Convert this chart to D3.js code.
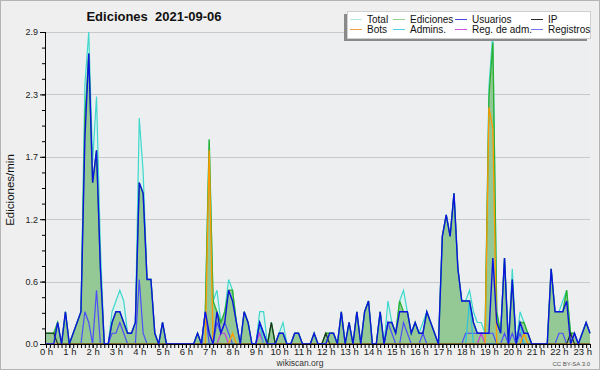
<!DOCTYPE html>
<html>
<head>
<meta charset="utf-8">
<script src="https://cdn.jsdelivr.net/npm/d3@7"></script>
<style>
  body { margin: 0; background: #efefef; }
  svg { display: block; font-family: "Liberation Sans", Arial, sans-serif; }
</style>
</head>
<body>
<div id="chart"></div>
<script>
// ediciones/min, un punto cada 10 min (0h00 .. 23h20)
const total = [
  .1, .1, .1, .2, 0, .3,   0, .1, .2, .3, 2.4, 2.9,   1.7, 2.3, .9, 0, 0, .3,   .4, .5, .4, .1, .1, .2,   2.1, 1.6, .6, .6, .1, 0,   .2, 0, 0, 0, 0, 0,
  0, 0, 0, .1, 0, .3,   1.9, .4, .5, .2, .3, .6,   .5, .2, 0, .3, .2, 0,   0, .3, .3, 0, .2, 0,   .1, .2, 0, 0, .1, .1,   0, 0, 0, .1, 0, 0,
  .1, .1, .1, 0, .3, 0,   .2, 0, .3, 0, .3, .4,   0, 0, .3, 0, .4, .2,   .1, .4, .5, .3, .1, .2,   .1, .2, .3, .2, .1, 0,   1.0, 1.2, 1.0, 1.4, .7, .4,
  .4, .5, .3, .2, .2, .1,   2.4, 2.9, .3, .1, .8, 0,   .7, 0, .3, .2, .1, 0,   0, 0, 0, 0, .7, .3,   .3, .4, .5, .1, .1, 0,   .1, .2, .1
];
const ediciones = [
  .1, .1, .1, .2, 0, .3,   0, .1, .2, .3, 2.1, 2.7,   1.5, 1.8, .7, 0, 0, .2,   .3, .3, .2, .1, .1, .2,   1.5, 1.4, .6, .6, .1, 0,   .2, 0, 0, 0, 0, 0,
  0, 0, 0, .1, 0, .3,   1.9, .4, .3, .2, .3, .5,   .5, .2, 0, .3, .2, 0,   0, .2, .1, 0, .2, 0,   .1, .1, 0, 0, .1, .1,   0, 0, 0, .1, 0, 0,
  .1, .1, .1, 0, .3, 0,   .2, 0, .3, 0, .3, .4,   0, 0, .3, 0, .2, .2,   .1, .4, .3, .3, .1, .2,   .1, .1, .3, .2, .1, 0,   1.0, 1.2, 1.0, 1.4, .7, .4,
  .4, .4, .2, .1, .1, .1,   2.3, 2.8, .3, .1, .8, 0,   .6, 0, .2, .2, .1, 0,   0, 0, 0, 0, .7, .3,   .3, .3, .5, .1, .1, 0,   .1, .2, .1
];
const usuarios = [
  0, 0, 0, .2, 0, .3,   0, .1, .2, .3, 1.9, 2.7,   1.5, 1.8, .7, 0, 0, .2,   .3, .3, .2, .1, .1, .2,   1.5, 1.4, .6, .6, .1, 0,   .2, 0, 0, 0, 0, 0,
  0, 0, 0, .1, 0, .3,   .1, 0, .3, .1, .2, .5,   .4, .2, 0, .3, .2, 0,   0, .2, .1, 0, 0, 0,   .1, .1, 0, 0, .1, .1,   0, 0, 0, .1, 0, 0,
  0, .1, .1, 0, .3, 0,   .2, 0, .3, 0, .3, .4,   0, 0, .3, 0, .2, .2,   .1, .3, .3, .3, .1, .2,   .1, .1, .3, .2, .1, 0,   1.0, 1.2, 1.0, 1.4, .7, .4,
  .4, .4, .2, .1, .1, .1,   .1, .8, .2, .1, .8, 0,   .6, 0, .2, .1, .1, 0,   0, 0, 0, 0, .7, .3,   .3, .3, .4, 0, .1, 0,   .1, .2, .1
];
const ip = [
  .1, .1, .1, 0, 0, 0,   0, 0, 0, 0, 0, 0,   0, 0, 0, 0, 0, 0,   0, 0, 0, 0, 0, 0,   0, 0, 0, 0, 0, 0,   0, 0, 0, 0, 0, 0,
  0, 0, 0, 0, 0, 0,   0, 0, 0, 0, 0, 0,   0, 0, 0, 0, 0, 0,   0, 0, 0, 0, .2, 0,   0, 0, 0, 0, 0, 0,   0, 0, 0, 0, 0, 0,
  .1, 0, 0, 0, 0, 0,   0, 0, 0, 0, 0, 0,   0, 0, 0, 0, 0, 0,   0, 0, 0, 0, 0, 0,   0, 0, 0, 0, 0, 0,   0, 0, 0, 0, 0, 0,
  0, 0, 0, 0, 0, 0,   0, 0, 0, 0, 0, 0,   0, 0, 0, 0, 0, 0,   0, 0, 0, 0, 0, 0,   0, 0, 0, .1, 0, 0,   0, 0, 0
];
const bots = [
  0, 0, 0, 0, 0, 0,   0, 0, 0, 0, 0, 0,   0, 0, 0, 0, 0, 0,   0, 0, 0, 0, 0, 0,   0, 0, 0, 0, 0, 0,   0, 0, 0, 0, 0, 0,
  0, 0, 0, 0, 0, 0,   1.8, 0, 0, 0, 0, 0,   .1, 0, 0, 0, 0, 0,   0, 0, 0, 0, 0, 0,   0, 0, 0, 0, 0, 0,   0, 0, 0, 0, 0, 0,
  0, 0, 0, 0, 0, 0,   0, 0, 0, 0, 0, 0,   0, 0, 0, 0, 0, 0,   0, 0, 0, 0, 0, 0,   0, 0, 0, 0, 0, 0,   0, 0, 0, 0, 0, 0,
  0, 0, 0, 0, 0, 0,   2.2, 2.0, 0, 0, 0, 0,   0, 0, 0, .1, 0, 0,   0, 0, 0, 0, 0, 0,   0, 0, 0, 0, 0, 0,   0, 0, 0
];
const admins = [
  0, 0, 0, 0, 0, 0,   0, 0, 0, 0, 0, 0,   0, 0, 0, 0, 0, 0,   0, 0, 0, 0, 0, 0,   0, 0, 0, 0, 0, 0,   0, 0, 0, 0, 0, 0,
  0, 0, 0, 0, 0, 0,   0, 0, 0, 0, 0, 0,   0, 0, 0, 0, 0, 0,   0, .2, 0, 0, 0, 0,   0, 0, 0, 0, 0, 0,   0, 0, 0, 0, 0, 0,
  0, 0, 0, 0, 0, 0,   0, 0, 0, 0, 0, 0,   0, 0, 0, 0, 0, 0,   0, 0, 0, 0, 0, 0,   0, 0, 0, 0, 0, 0,   0, 0, 0, 0, 0, 0,
  0, .4, 0, 0, 0, 0,   0, 0, 0, 0, 0, 0,   0, 0, .2, 0, 0, 0,   0, 0, 0, 0, 0, 0,   0, 0, 0, 0, 0, 0,   0, 0, 0
];
const regAdm = [
  0, 0, 0, 0, 0, 0,   0, 0, 0, 0, 0, 0,   0, 0, 0, 0, 0, 0,   0, 0, 0, 0, 0, 0,   0, 0, 0, 0, 0, 0,   0, 0, 0, 0, 0, 0,
  0, 0, 0, 0, 0, 0,   0, 0, 0, .1, .1, 0,   0, 0, 0, 0, 0, 0,   0, .1, 0, 0, 0, 0,   0, 0, 0, 0, 0, 0,   0, 0, 0, 0, 0, 0,
  0, 0, 0, 0, 0, 0,   0, 0, 0, 0, 0, 0,   0, 0, 0, 0, 0, 0,   0, 0, 0, 0, 0, 0,   0, 0, 0, 0, 0, 0,   0, 0, 0, 0, 0, 0,
  0, 0, 0, 0, .1, 0,   0, 0, 0, 0, 0, 0,   0, 0, 0, 0, 0, 0,   0, 0, 0, 0, 0, 0,   0, 0, 0, 0, 0, 0,   0, 0, 0
];
const registros = [
  0, 0, 0, 0, 0, 0,   0, 0, 0, 0, .3, .2,   0, .5, 0, 0, 0, .1,   .1, .2, .1, 0, 0, 0,   .6, .1, 0, 0, 0, 0,   0, 0, 0, 0, 0, 0,
  0, 0, 0, 0, 0, .3,   0, 0, .2, .1, .2, .1,   0, 0, 0, 0, 0, 0,   0, .2, .1, 0, 0, 0,   0, 0, 0, 0, 0, 0,   0, 0, 0, 0, 0, 0,
  0, 0, 0, 0, 0, 0,   0, 0, 0, 0, 0, 0,   0, 0, 0, 0, .2, .1,   0, 0, .2, .1, 0, 0,   0, .1, 0, 0, 0, 0,   0, 0, 0, 0, 0, 0,
  .1, .1, .1, .1, .1, .1,   .1, .1, 0, 0, .1, 0,   .1, 0, .1, 0, 0, 0,   0, 0, 0, 0, 0, 0,   .1, .1, 0, 0, .1, 0,   0, 0, 0
];

const hourTicks = d3.range(0, 24);
const yTicks = [0, 0.58, 1.16, 1.74, 2.32, 2.9];
const yMax = 2.9;
const pointsPerHour = 6;

const legendItems = [
  { label: "Total", color: "#b4e6e4" },
  { label: "Ediciones", color: "#8fd08f" },
  { label: "Usuarios", color: "#4848e0" },
  { label: "IP", color: "#2a2a2a" },
  { label: "Bots", color: "#f0a040" },
  { label: "Admins.", color: "#50d0e0" },
  { label: "Reg. de adm.", color: "#d050e0" },
  { label: "Registros", color: "#7474f0" }
];

const W = 600, H = 370;
const plotLeft = 46, plotRight = 590, plotTop = 32, plotBottom = 344;

const svg = d3.select("#chart").append("svg")
  .attr("width", W)
  .attr("height", H);

// fondo y borde
svg.append("rect")
  .attr("x", 0.5).attr("y", 0.5)
  .attr("width", W - 1).attr("height", H - 1)
  .attr("fill", "#efefef")
  .attr("stroke", "#b4b4b4");

svg.append("rect")
  .attr("x", plotLeft).attr("y", plotTop)
  .attr("width", plotRight - plotLeft).attr("height", plotBottom - plotTop)
  .attr("fill", "#eceef0");

const x = d3.scaleLinear().domain([0, total.length - 1]).range([plotLeft, plotRight]);
const y = d3.scaleLinear().domain([0, yMax]).range([plotBottom, plotTop]);

// rejilla
svg.append("g")
  .selectAll("line")
  .data(yTicks.filter(d => d > 0))
  .enter()
  .append("line")
  .attr("x1", plotLeft).attr("x2", plotRight)
  .attr("y1", d => Math.round(y(d)) + 0.5)
  .attr("y2", d => Math.round(y(d)) + 0.5)
  .attr("stroke", "#c9c9c9");

const area = d3.area().x((d, i) => x(i)).y0(y(0)).y1(d => y(d));
const line = d3.line().x((d, i) => x(i)).y(d => y(d));

// áreas
svg.append("path").datum(total).attr("d", area).attr("fill", "#ddf1ef");
svg.append("path").datum(ediciones).attr("d", area).attr("fill", "#94c996");

// líneas
const drawLine = (data, color, w) => {
  svg.append("path")
    .datum(data)
    .attr("d", line)
    .attr("fill", "none")
    .attr("stroke", color)
    .attr("stroke-width", w)
    .attr("stroke-linejoin", "miter");
};
drawLine(total, "#40d8cc", 1.2);
drawLine(ediciones, "#2eb02e", 1.3);
drawLine(registros, "#4d4dfa", 1.2);
drawLine(regAdm, "#c83cdc", 1.2);
drawLine(admins, "#28c4e0", 1.2);
drawLine(bots, "#ff9a00", 1.3);
drawLine(ip, "#1f2f22", 1.2);
drawLine(usuarios, "#0c14e0", 1.4);

// eje X
const xMinor = svg.append("g")
  .attr("transform", `translate(0,${plotBottom})`)
  .call(d3.axisBottom(x).tickValues(d3.range(0, total.length)).tickSize(4).tickFormat(""));
xMinor.select(".domain").remove();

const xAxis = svg.append("g")
  .attr("transform", `translate(0,${plotBottom})`)
  .call(d3.axisBottom(x)
    .tickValues(hourTicks.map(h => h * pointsPerHour))
    .tickSize(4)
    .tickPadding(0)
    .tickFormat(d => `${d / pointsPerHour} h`));
xAxis.select(".domain").attr("stroke", "#000").attr("d", `M${plotLeft},0.5H${plotRight}`);
xAxis.selectAll("text").attr("font-size", "9.5px").attr("fill", "#222").attr("font-family", "Liberation Sans, Arial, sans-serif");

// eje Y
const yMinor = svg.append("g")
  .attr("transform", `translate(${plotLeft},0)`)
  .call(d3.axisLeft(y).tickValues(d3.range(0, 21).map(k => k * yMax / 20)).tickSize(4).tickFormat(""));
yMinor.select(".domain").remove();

const yAxis = svg.append("g")
  .attr("transform", `translate(${plotLeft},0)`)
  .call(d3.axisLeft(y).tickValues(yTicks).tickSize(6).tickPadding(2).tickFormat(d3.format(".1f")));
yAxis.select(".domain").attr("d", `M-0.5,${plotTop}V${plotBottom}`);
yAxis.selectAll("text").attr("font-size", "9px").attr("fill", "#222").attr("font-family", "Liberation Sans, Arial, sans-serif");

// títulos
svg.append("text")
  .attr("x", 154).attr("y", 21)
  .attr("text-anchor", "middle")
  .attr("font-size", "13px")
  .attr("font-weight", "bold")
  .attr("fill", "#111")
  .style("white-space", "pre")
  .text("Ediciones  2021-09-06");

svg.append("text")
  .attr("transform", "rotate(-90)")
  .attr("x", -190).attr("y", 14)
  .attr("text-anchor", "middle")
  .attr("font-size", "11.5px")
  .attr("fill", "#111")
  .text("Ediciones/min");

svg.append("text")
  .attr("x", 300).attr("y", 366)
  .attr("text-anchor", "middle")
  .attr("font-size", "8.5px")
  .attr("fill", "#333")
  .text("wikiscan.org");

svg.append("text")
  .attr("x", 590).attr("y", 366)
  .attr("text-anchor", "end")
  .attr("font-size", "6px")
  .attr("fill", "#555")
  .text("CC BY-SA 3.0");

// leyenda
const legend = svg.append("g").attr("transform", "translate(347,11)");
legend.append("rect")
  .attr("x", -3).attr("y", 3)
  .attr("width", 243).attr("height", 27)
  .attr("fill", "#8a8a8a");
legend.append("rect")
  .attr("x", 0.5).attr("y", 0.5)
  .attr("width", 243).attr("height", 27)
  .attr("fill", "#fff")
  .attr("stroke", "#cfcfcf");

const colX = [3, 46, 108, 184];
legendItems.forEach((item, i) => {
  const col = i % 4, row = Math.floor(i / 4);
  const g = legend.append("g")
    .attr("transform", `translate(${colX[col]},${8.5 + row * 10})`);
  g.append("line")
    .attr("x1", 0).attr("x2", 12)
    .attr("stroke", item.color)
    .attr("stroke-width", 1);
  g.append("text")
    .attr("x", 17).attr("y", 3.5)
    .attr("font-size", "10px")
    .attr("fill", "#111")
    .text(item.label);
});
</script>
</body>
</html>
